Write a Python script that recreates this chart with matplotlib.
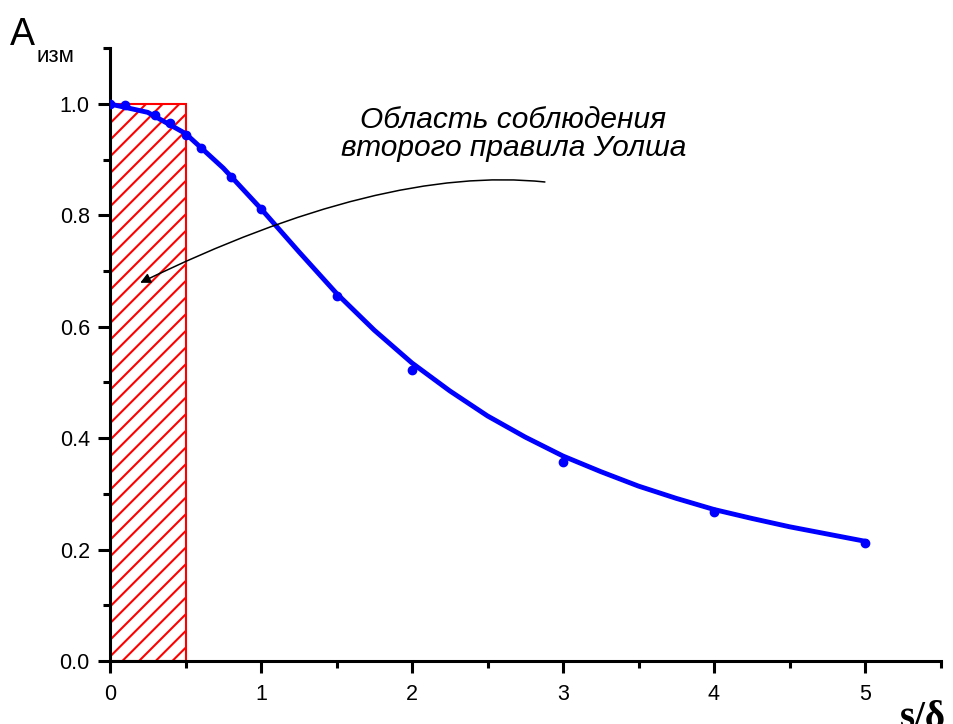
import matplotlib.pyplot as plt
from matplotlib.ticker import MultipleLocator
import numpy as np

# measured points
x_pts = [0, 0.1, 0.3, 0.4, 0.5, 0.6, 0.8, 1.0, 1.5, 2, 3, 4, 5]
y_pts = [1.0, 0.998, 0.980, 0.966, 0.944, 0.921, 0.869, 0.811, 0.655, 0.522, 0.357, 0.268, 0.212]

# fitted curve
x_fit = [0, 0.25, 0.5, 0.75, 1.0, 1.25, 1.5, 1.75, 2.0, 2.25, 2.5, 2.75, 3.0,
         3.25, 3.5, 3.75, 4.0, 4.25, 4.5, 4.75, 5.0]
y_fit = [1.0, 0.985, 0.947, 0.885, 0.812, 0.735, 0.660, 0.594, 0.535, 0.485, 0.440,
         0.402, 0.368, 0.340, 0.314, 0.292, 0.272, 0.256, 0.241, 0.228, 0.215]

# hatched region
region_x = [0, 0.5]
region_h = 1.0

note = "Область соблюдения\nвторого правила Уолша"
note_xy = (2.672, 0.996)
arrow_from = (2.88, 0.86)
arrow_to = (0.2, 0.679)

plt.rcParams['font.family'] = ['Liberation Sans', 'DejaVu Sans']
plt.rcParams['hatch.linewidth'] = 1.5

fig = plt.figure(figsize=(9.54, 7.24), dpi=100)
ax = fig.add_axes([110/954, 63/724, 830.5/954, 612.7/724])

ax.bar(region_x[0], region_h, width=region_x[1]-region_x[0], align='edge',
       fill=False, hatch='//', edgecolor='red', linewidth=1.5, zorder=1)
ax.plot(x_fit, y_fit, color='blue', lw=3.5, zorder=3)
ax.plot(x_pts, y_pts, 'o', color='blue', ms=6, zorder=4)

ax.set_xlim(0, 5.5)
ax.set_ylim(0, 1.1)
for s in ['top', 'right']:
    ax.spines[s].set_visible(False)
for s in ['left', 'bottom']:
    ax.spines[s].set_linewidth(2.2)
ax.xaxis.set_minor_locator(MultipleLocator(0.5))
ax.yaxis.set_minor_locator(MultipleLocator(0.1))
ax.set_xticks(np.arange(0, 6, 1))
ax.set_xticklabels(['0', '1', '2', '3', '4', '5'])
ax.set_yticks(np.arange(0, 1.01, 0.2))
ax.set_yticklabels(['0.0', '0.2', '0.4', '0.6', '0.8', '1.0'])
ax.tick_params(which='major', length=8.5, width=2.2, labelsize=15.5, colors='black')
ax.tick_params(which='minor', length=5, width=2.2)
ax.tick_params(axis='x', which='major', pad=8)
ax.tick_params(axis='y', which='major', pad=6)

ax.text(note_xy[0], note_xy[1], note, ha='center', va='top', fontsize=21.5,
        style='italic', linespacing=1.0)
ax.annotate('', xy=arrow_to, xytext=arrow_from,
            arrowprops=dict(arrowstyle='-|>', color='black', lw=1.1, mutation_scale=15,
                            connectionstyle='angle3,angleA=-6,angleB=26',
                            shrinkA=0, shrinkB=0))

fig.text(10/954, 1-45/724, 'A', fontsize=27, ha='left', va='baseline')
fig.text(37/954, 1-62/724, 'изм', fontsize=16, ha='left', va='baseline')
fig.text(900/954, -4/724, 's/δ', fontsize=28, fontweight='bold',
         family=['Liberation Serif', 'DejaVu Serif'], ha='left', va='baseline')

fig.savefig('out.png', dpi=100)
